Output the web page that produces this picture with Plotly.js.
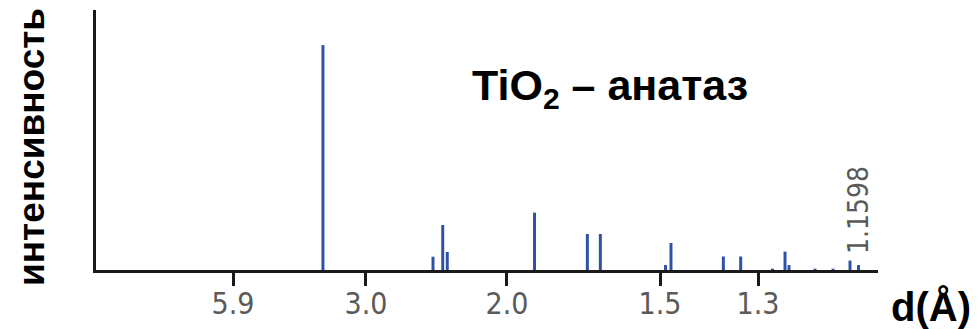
<!DOCTYPE html>
<html>
<head>
<meta charset="utf-8">
<script src="https://cdn.plot.ly/plotly-3.0.1.min.js"></script>
<style>html,body{margin:0;padding:0;background:#fff;}#chart{width:977px;height:329px;}</style>
</head>
<body>
<div id="chart"></div>
<script>
// Peak positions (2θ, degrees) and relative intensities
var peakTwoTheta = [25.23, 37.10, 38.15, 38.64, 48.05, 53.75, 55.15, 62.18, 62.77, 68.42, 70.29, 73.72, 75.07, 75.50, 78.31, 80.25, 82.08, 83.00];
var peakIntensity = [100, 5.9, 20, 8, 25.5, 16, 16, 2.2, 12, 6, 6, 0.6, 8.2, 2.2, 0.6, 0.6, 4.2, 2.2];
// Tick positions (2θ) with their d-spacing labels
var tickTwoTheta = [15.53, 29.87, 45.08, 61.59, 72.16];
var tickLabels = ["5.9", "3.0", "2.0", "1.5", "1.3"];

var trace = {
  type: "bar",
  x: peakTwoTheta,
  y: peakIntensity,
  width: 0.32,
  marker: {color: "#2e50a6", line: {width: 0}},
  hoverinfo: "x+y"
};

var L = 96, T = 10, W = 782, H = 260;
function px(X) { return (X - L) / W; }
function py(Y) { return (T + H - Y) / H; }

var layout = {
  width: 977, height: 329,
  margin: {l: L, r: 977 - L - W, t: T, b: 329 - T - H, pad: 0},
  paper_bgcolor: "#ffffff", plot_bgcolor: "#ffffff",
  showlegend: false,
  xaxis: {
    range: [0.75, 85.1],
    showgrid: false, zeroline: false,
    showline: true, linecolor: "#1a1a1a", linewidth: 3,
    ticks: "outside", ticklen: 13, tickwidth: 3, tickcolor: "#1a1a1a",
    tickmode: "array", tickvals: tickTwoTheta, ticktext: tickLabels,
    ticklabelstandoff: -8,
    tickfont: {family: "DejaVu Sans Condensed, Liberation Sans Narrow, Arial", size: 30, color: "#5a5a5a"}
  },
  yaxis: {
    range: [0, 115.6],
    showgrid: false, zeroline: false,
    showline: true, linecolor: "#1a1a1a", linewidth: 3,
    ticks: "", showticklabels: false
  },
  annotations: [
    {xref: "paper", yref: "paper", x: px(31), y: py(147), xanchor: "center", yanchor: "middle",
     text: "<b>интенсивность</b>", textangle: -90, showarrow: false,
     font: {family: "Liberation Sans, Arial", size: 37, color: "#000"}},
    {xref: "paper", yref: "paper", x: px(610), y: py(88), xanchor: "center", yanchor: "middle",
     text: "<b>TiO<sub>2</sub>&nbsp;– анатаз</b>", showarrow: false,
     font: {family: "Liberation Sans, Arial", size: 43, color: "#000"}},
    {xref: "paper", yref: "paper", x: px(931), y: py(307), xanchor: "center", yanchor: "middle",
     text: "<b>d(Å)</b>", showarrow: false,
     font: {family: "Liberation Sans, Arial", size: 40, color: "#000"}},
    {xref: "paper", yref: "paper", x: px(859), y: py(210), xanchor: "center", yanchor: "middle",
     text: "1.1598", textangle: -90, showarrow: false,
     font: {family: "DejaVu Sans Condensed, Liberation Sans Narrow, Arial", size: 28, color: "#5a5a5a"}}
  ]
};

Plotly.newPlot("chart", [trace], layout, {staticPlot: true, displayModeBar: false});
</script>
</body>
</html>
